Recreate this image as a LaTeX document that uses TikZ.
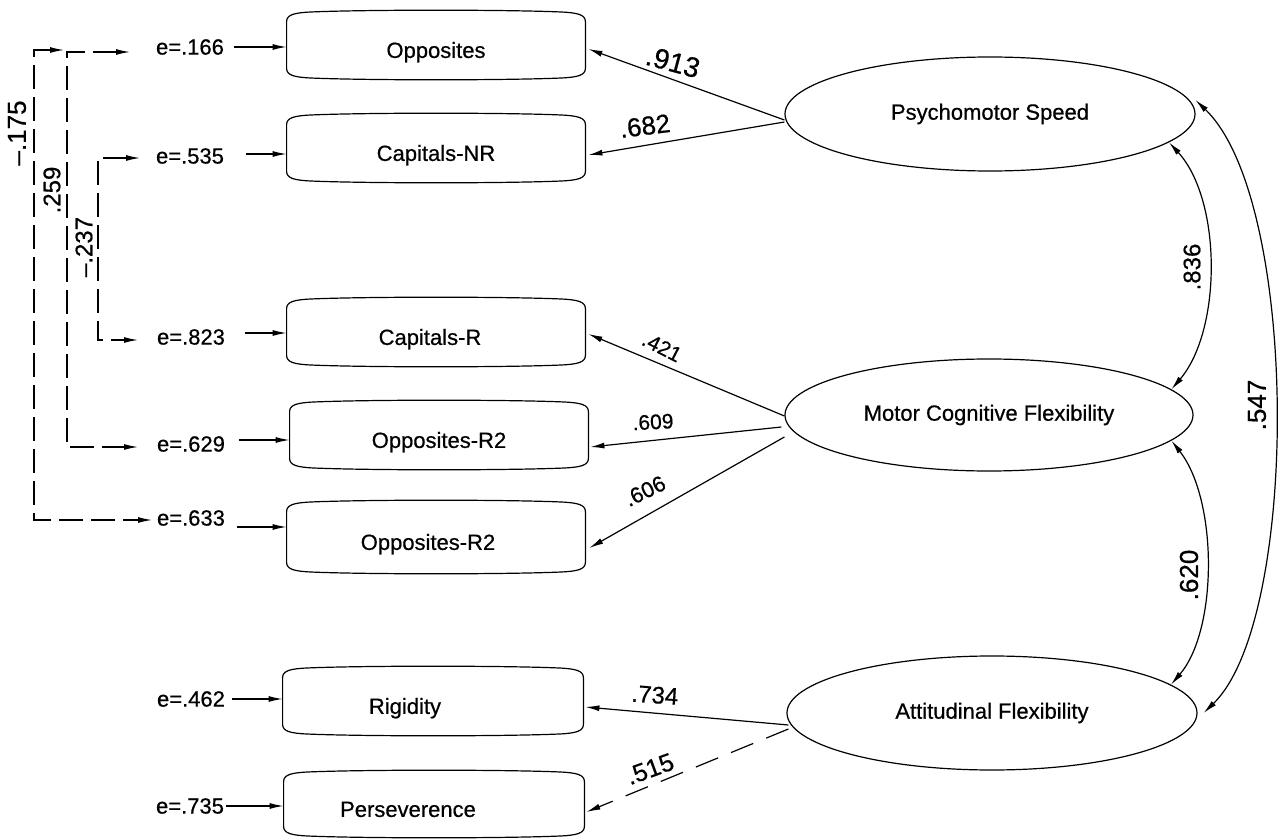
\documentclass[tikz,border=0pt]{standalone}
\usepackage{fontspec}
\setmainfont{Liberation Sans}[FakeBold=0.6]
\usetikzlibrary{arrows.meta,shapes.geometric}
\tikzset{
 box/.style={rectangle,inner sep=0pt,minimum width=149pt,minimum height=35pt,font=\fontsize{11}{13}\selectfont,text height=12.9pt,text depth=0pt},
 lat/.style={ellipse,draw,line width=0.6pt,inner sep=0pt,minimum width=205pt,minimum height=57pt,font=\fontsize{11}{13}\selectfont},
 err/.style={inner sep=1pt,font=\fontsize{11}{13}\selectfont},
 conn/.style={line width=0.6pt,-{Latex[length=7pt,width=3pt]}},
 corr/.style={line width=0.6pt,{Latex[length=7pt,width=3pt]}-{Latex[length=7pt,width=3pt]}},
 dline/.style={line width=0.6pt,dash pattern=on 12pt off 4pt},
 lab/.style={inner sep=0pt,font=\fontsize{#1}{#1}\selectfont},
 edge/.style={line width=0.6pt}
}
\newcommand\boxedge[1]{%
\draw[edge] ([yshift=-6pt]#1.north west)
 .. controls ([yshift=-2.5pt]#1.north west) and ([xshift=4pt,yshift=-1.6pt]#1.north west) .. ([xshift=12pt,yshift=-1.2pt]#1.north west)
 .. controls ([xshift=40pt]#1.north west) and ([xshift=-40pt]#1.north east) .. ([xshift=-12pt,yshift=-1.2pt]#1.north east)
 .. controls ([xshift=-4pt,yshift=-1.6pt]#1.north east) and ([yshift=-2.5pt]#1.north east) .. ([yshift=-6pt]#1.north east)
 -- ([yshift=6pt]#1.south east)
 .. controls ([yshift=2.5pt]#1.south east) and ([xshift=-4pt,yshift=1.6pt]#1.south east) .. ([xshift=-12pt,yshift=1.2pt]#1.south east)
 .. controls ([xshift=-40pt]#1.south east) and ([xshift=40pt]#1.south west) .. ([xshift=12pt,yshift=1.2pt]#1.south west)
 .. controls ([xshift=4pt,yshift=1.6pt]#1.south west) and ([yshift=2.5pt]#1.south west) .. ([yshift=6pt]#1.south west)
 -- cycle;}
\begin{document}
\begin{tikzpicture}[x=0.5pt,y=-0.5pt]
\useasboundingbox (0,0) rectangle (1282,840);
% observed variables
\node[box] (opp) at (436,45) {Opposites};
\node[box] (capnr) at (436,148) {Capitals-NR};
\node[box] (capr) at (436,332) {\hspace*{-6pt}Capitals-R};
\node[box] (oppa) at (439,435) {Opposites-R2};
\node[box,minimum height=37pt] (oppb) at (436,537) {\hspace*{-8pt}Opposites-R2};
\node[box,minimum width=150pt] (rig) at (433,701) {\hspace*{-28pt}Rigidity};
\node[box,minimum width=150pt,minimum height=34pt] (pers) at (434,804) {\hspace*{-26pt}Perseverence};
\boxedge{opp}\boxedge{capnr}\boxedge{capr}\boxedge{oppa}\boxedge{oppb}\boxedge{rig}\boxedge{pers}
% latent variables
\node[lat] (psy) at (990,114) {Psychomotor Speed};
\node[lat,minimum width=204pt,minimum height=56pt] (mcf) at (989,415) {Motor Cognitive Flexibility};
\node[lat] (att) at (992,713) {Attitudinal Flexibility};
% errors
\node[err] (e166) at (190,47) {e=.166};
\node[err] (e535) at (190,156) {e=.535};
\node[err] (e823) at (191,337) {e=.823};
\node[err] (e629) at (191,444) {e=.629};
\node[err] (e633) at (191,518) {e=.633};
\node[err] (e462) at (191,699) {e=.462};
\node[err] (e735) at (190,806) {e=.735};
\draw[conn] ([xshift=4pt]e166.east) -- (e166.east -| opp.west);
\draw[conn] ([xshift=10pt,yshift=1pt]e535.east) -- ([yshift=1pt]e535.east -| capnr.west);
\draw[conn] ([xshift=9pt,yshift=2pt]e823.east) -- ([yshift=2pt]e823.east -| capr.west);
\draw[conn] ([xshift=6pt,yshift=2pt]e629.east) -- ([yshift=2pt]e629.east -| oppa.west);
\coordinate (s633) at ([xshift=5pt,yshift=-4.5pt]e633.east);
\draw[conn] (s633) -- (s633 -| oppb.west);
\draw[conn] ([xshift=2.5pt]e462.east) -- (e462.east -| rig.west);
\draw[conn] (e735.east) -- (e735.east -| pers.west);
% error correlations
\coordinate (a1) at (64,50); \coordinate (a2) at (34,50);
\coordinate (a3) at (34,520); \coordinate (a4) at (152,520);
\draw[dline,{Latex[length=7pt,width=3pt]}-{Latex[length=7pt,width=3pt]}] (a1) -- (a2) -- (a3) -- (a4);
\coordinate (b1) at (130,52); \coordinate (b2) at (67,52);
\coordinate (b3) at (67,447); \coordinate (b4) at (138,447);
\draw[dline,{Latex[length=7pt,width=3pt]}-{Latex[length=7pt,width=3pt]}] (b1) -- (b2) -- (b3) -- (b4);
\coordinate (c1) at (140,158); \coordinate (c2) at (98,158);
\coordinate (c3) at (98,340); \coordinate (c4) at (138,340);
\draw[dline,{Latex[length=7pt,width=3pt]}-{Latex[length=7pt,width=3pt]}] (c1) -- (c2) -- (c3) -- (c4);
\node[lab=13,rotate=90] (l175) at (17,133) {\textendash.175};
\node[lab=12,rotate=90] (l259) at (52,190) {.259};
\node[lab=12,rotate=90] (l237) at (84,247) {\textendash.237};
% loadings
\draw[conn] ([yshift=-3pt]psy.west) -- ([xshift=1.5pt,yshift=-2pt]opp.east);
\draw[conn] ([yshift=-4pt]psy.west) -- ([xshift=1.5pt,yshift=-3.5pt]capnr.east);
\node[lab=14,rotate=-15] (l913) at (673,62) {.913};
\node[lab=13,rotate=7] (l682) at (645,126) {.682};
\draw[conn] ([yshift=-0.5pt]mcf.west) -- ([xshift=1.5pt,yshift=-1pt]capr.east);
\draw[conn] ([xshift=-1.5pt,yshift=-6pt]mcf.west) -- ([xshift=1pt,yshift=-6pt]oppa.east);
\draw[conn] ([yshift=-11pt]mcf.west) -- ([xshift=2pt,yshift=-5.5pt]oppb.east);
\node[lab=10.5,rotate=-27] (l421) at (662,347) {.421};
\node[lab=10.5,rotate=3] (l609) at (653,422) {.609};
\node[lab=11,rotate=26] (l606) at (645,491) {.606};
\draw[conn] ([xshift=1pt,yshift=-6pt]att.west) -- ([xshift=1pt,yshift=-3pt]rig.east);
\draw[conn,dash pattern=on 12pt off 7pt] ([xshift=1pt,yshift=-8pt]att.west) -- ([xshift=1pt,yshift=-4pt]pers.east);
\node[lab=12,rotate=-4] (l734) at (655,695) {.734};
\node[lab=12.5,rotate=20] (l515) at (650,769) {.515};
% factor correlations
\draw[corr] (psy.-9) .. controls (1222,200) and (1222,330) .. (mcf.8);
\draw[corr] (mcf.-8) .. controls (1218,500) and (1218,630) .. (att.9);
\draw[corr] ([xshift=3pt]psy.4) .. controls (1300,200) and (1300,620) .. ([xshift=3pt]att.east);
\node[lab=12,rotate=90] (l836) at (1192,267) {.836};
\node[lab=13,rotate=90] (l620) at (1189,575) {.620};
\node[lab=13,rotate=90] (l547) at (1257,405) {.547};
\end{tikzpicture}
\end{document}
